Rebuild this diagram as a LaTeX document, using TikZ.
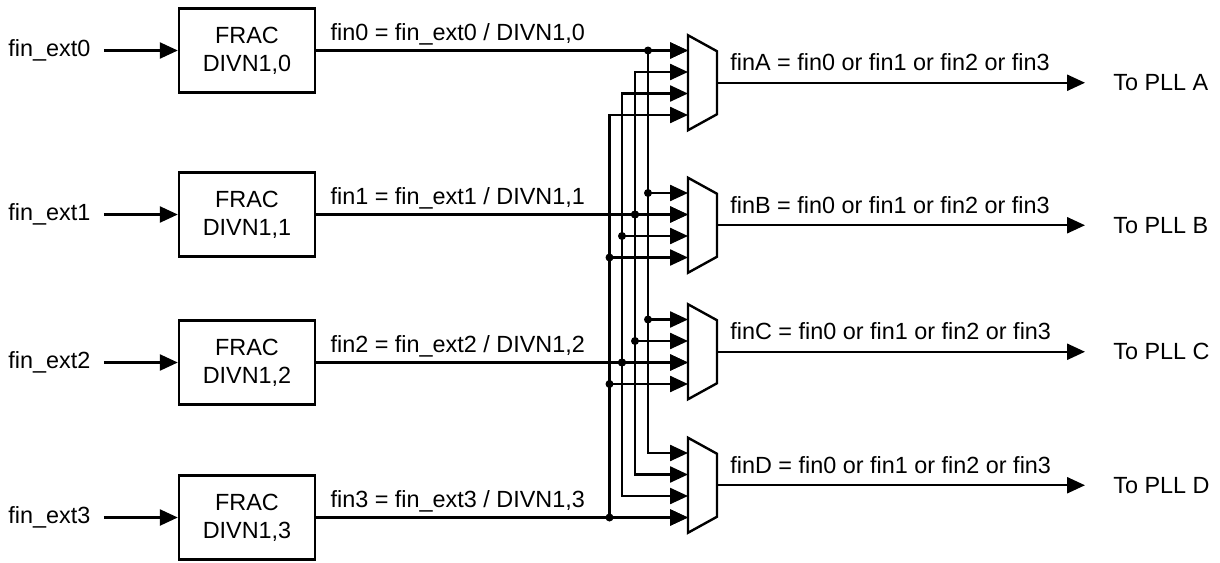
\documentclass[tikz,border=0pt]{standalone}
\usepackage{fontspec}
\setmainfont{Liberation Sans}
\usetikzlibrary{arrows.meta,calc}
\tikzset{
  sig/.style={line width=1.2pt,-{Triangle[length=9pt,width=8pt]}},
  duo/.style={line width=1.2pt,line join=miter,{Triangle[length=9pt,width=8pt]}-{Triangle[length=9pt,width=8pt]}},
  divbox/.style={draw,line width=1.2pt,minimum width=68pt,minimum height=42pt,align=center,inner sep=0pt},
  txt/.style={inner sep=0pt},
  muxbody/.style={draw,line width=1.2pt,line join=miter},
}

\begin{document}
\begin{tikzpicture}[x=0.5pt,y=-0.5pt,font=\fontsize{11.7}{14}\selectfont]
\useasboundingbox (0,0) rectangle (1220,562);
% bus columns
\coordinate (bus0) at (648,0);
\coordinate (bus1) at (635,0);
\coordinate (bus2) at (622,0);
\coordinate (bus3) at (609.5,0);
% dividers
\foreach \i/\y in {0/50.5,1/214.5,2/362.5,3/517.5}{
  \node[txt,anchor=west] (ext\i) at (8,\y) {fin\_ext\i};
  \node[divbox] (div\i) at (247,\y) {FRAC\\DIVN1,\i};
  \draw[sig,shorten <=6.5pt] (ext\i) -- (div\i);
  \node[txt,anchor=base west] (lbl\i) at ([shift={(14,-10)}]div\i.east) {fin\i{} = fin\_ext\i{} / DIVN1,\i};
}
% muxes
\foreach \m/\y in {A/82.75,B/225.25,C/351.75,D/485.25}{
  \draw[muxbody] (688,\y-47.5) -- (717,\y-31.5) -- (717,\y+31.5) -- (688,\y+47.5) -- cycle;
  \coordinate (mux\m-1) at (688,\y-32.25);
  \coordinate (mux\m-2) at (688,\y-10.75);
  \coordinate (mux\m-3) at (688,\y+10.75);
  \coordinate (mux\m-4) at (688,\y+32.25);
  \coordinate (mux\m-out) at (717,\y);
  \node[txt,anchor=west] (pll\m) at (1113,\y) {To PLL \m};
  \draw[sig,shorten >=14pt] (mux\m-out) -- (pll\m);
  \node[txt,anchor=base west] (sel\m) at ([shift={(13,-12)}]mux\m-out) {fin\m{} = fin0 or fin1 or fin2 or fin3};
}
% wiring
\foreach \i/\k/\own in {0/1/A,1/2/B,2/3/C,3/4/D}{
  \draw[sig] (div\i.east) -- (mux\own-\k);
  \draw[duo] (muxA-\k) -| (bus\i |- muxD-\k) -- (muxD-\k);
  \draw[sig] (bus\i |- muxB-\k) -- (muxB-\k);
  \draw[sig] (bus\i |- muxC-\k) -- (muxC-\k);
  \foreach \m in {B,C,\own} \fill (bus\i |- mux\m-\k) circle (4);
}
\end{tikzpicture}
\end{document}
